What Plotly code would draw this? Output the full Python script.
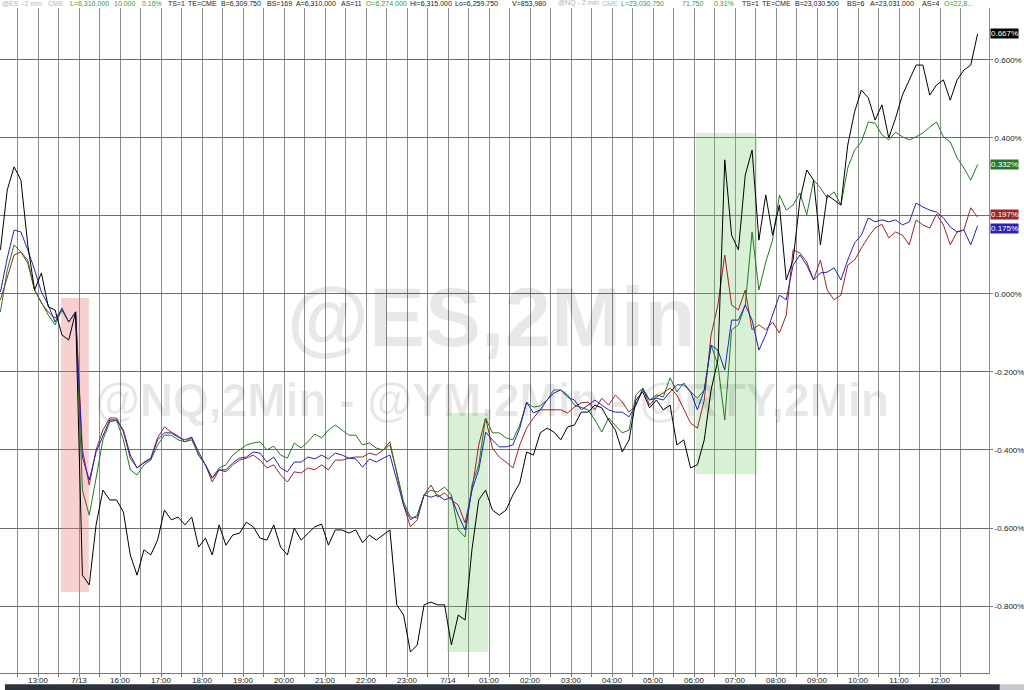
import plotly.graph_objects as go

# 10-minute samples, session gap (Fri 14:00 -> Sun 15:00) removed; 0 = 13:00 on 7/11
FIRST_BAR_MIN = -55
BAR_MIN = 10

# % change series
blk_pct = [
    0.113, 0.267, 0.326, 0.292, 0.126, 0.010, 0.054, -0.033, -0.041, -0.105, -0.118, -0.046,
    -0.721, -0.746, -0.592, -0.503, -0.528, -0.528, -0.559, -0.669, -0.721, -0.656, -0.669, -0.631,
    -0.554, -0.579, -0.572, -0.592, -0.572, -0.649, -0.626, -0.669, -0.592, -0.644, -0.618, -0.613,
    -0.585, -0.597, -0.626, -0.631, -0.592, -0.649, -0.669, -0.600, -0.631, -0.613, -0.597, -0.590,
    -0.644, -0.605, -0.605, -0.613, -0.605, -0.638, -0.618, -0.631, -0.618, -0.605, -0.797, -0.823,
    -0.918, -0.900, -0.797, -0.790, -0.797, -0.797, -0.900, -0.823, -0.836, -0.656, -0.528, -0.503,
    -0.554, -0.567, -0.554, -0.515, -0.485, -0.405, -0.413, -0.356, -0.344, -0.354, -0.374, -0.341,
    -0.336, -0.303, -0.303, -0.285, -0.292, -0.323, -0.349, -0.405, -0.374, -0.272, -0.251, -0.292,
    -0.272, -0.297, -0.285, -0.387, -0.374, -0.446, -0.438, -0.374, -0.246, -0.169, 0.344, 0.151,
    0.113, 0.305, 0.369, 0.138, 0.254, 0.151, 0.228, 0.036, 0.087, 0.241, 0.318, 0.292,
    0.126, 0.254, 0.241, 0.228, 0.382, 0.467, 0.523, 0.503, 0.446, 0.485, 0.400, 0.451,
    0.510, 0.549, 0.587, 0.587, 0.510, 0.536, 0.549, 0.497, 0.549, 0.574, 0.587, 0.667,
]
grn_pct = [
    -0.046, 0.062, 0.126, 0.108, 0.087, 0.010, -0.021, -0.054, -0.079, -0.041, -0.072, -0.046,
    -0.503, -0.567, -0.472, -0.374, -0.328, -0.323, -0.374, -0.451, -0.464, -0.438, -0.426, -0.387,
    -0.362, -0.362, -0.374, -0.379, -0.374, -0.413, -0.438, -0.472, -0.446, -0.438, -0.413, -0.400,
    -0.387, -0.382, -0.379, -0.400, -0.390, -0.413, -0.421, -0.382, -0.395, -0.379, -0.359, -0.369,
    -0.349, -0.336, -0.349, -0.362, -0.362, -0.387, -0.382, -0.395, -0.400, -0.387, -0.456, -0.533,
    -0.572, -0.574, -0.515, -0.503, -0.508, -0.495, -0.515, -0.605, -0.623, -0.490, -0.438, -0.318,
    -0.356, -0.356, -0.369, -0.374, -0.336, -0.279, -0.290, -0.287, -0.272, -0.246, -0.246, -0.259,
    -0.285, -0.292, -0.297, -0.323, -0.354, -0.318, -0.336, -0.356, -0.349, -0.259, -0.241, -0.272,
    -0.259, -0.264, -0.215, -0.251, -0.228, -0.251, -0.267, -0.246, -0.131, -0.182, -0.323, -0.092,
    -0.079, -0.028, 0.159, 0.010, 0.082, 0.138, 0.254, 0.215, 0.228, 0.259, 0.203, 0.292,
    0.272, 0.246, 0.262, 0.228, 0.323, 0.369, 0.390, 0.441, 0.438, 0.408, 0.395, 0.415,
    0.403, 0.395, 0.403, 0.413, 0.428, 0.441, 0.403, 0.390, 0.349, 0.323, 0.292, 0.332,
]
red_pct = [
    -0.015, 0.041, 0.100, 0.108, 0.079, 0.010, -0.023, -0.046, -0.062, -0.041, -0.072, -0.046,
    -0.400, -0.490, -0.400, -0.349, -0.318, -0.318, -0.354, -0.421, -0.446, -0.431, -0.421, -0.369,
    -0.341, -0.354, -0.364, -0.379, -0.369, -0.413, -0.438, -0.482, -0.451, -0.456, -0.438, -0.426,
    -0.421, -0.413, -0.426, -0.446, -0.438, -0.464, -0.482, -0.456, -0.459, -0.446, -0.451, -0.438,
    -0.451, -0.426, -0.426, -0.421, -0.418, -0.418, -0.408, -0.413, -0.400, -0.379, -0.464, -0.541,
    -0.597, -0.579, -0.515, -0.490, -0.521, -0.510, -0.528, -0.541, -0.587, -0.503, -0.387, -0.318,
    -0.395, -0.418, -0.431, -0.446, -0.387, -0.344, -0.318, -0.297, -0.297, -0.297, -0.297, -0.305,
    -0.290, -0.279, -0.277, -0.297, -0.267, -0.285, -0.259, -0.277, -0.303, -0.285, -0.241, -0.285,
    -0.264, -0.254, -0.241, -0.259, -0.297, -0.331, -0.344, -0.272, -0.105, -0.028, 0.100, -0.028,
    -0.041, 0.010, -0.092, -0.079, -0.092, -0.072, -0.100, -0.054, 0.113, 0.105, 0.082, 0.036,
    0.087, 0.010, -0.015, -0.003, 0.074, 0.087, 0.118, 0.146, 0.169, 0.179, 0.144, 0.159,
    0.151, 0.126, 0.190, 0.177, 0.169, 0.205, 0.177, 0.126, 0.159, 0.164, 0.221, 0.197,
]
blu_pct = [
    0.005, 0.092, 0.164, 0.159, 0.113, 0.062, 0.005, -0.028, -0.072, -0.036, -0.072, -0.046,
    -0.418, -0.477, -0.405, -0.362, -0.323, -0.323, -0.349, -0.413, -0.446, -0.433, -0.423, -0.374,
    -0.356, -0.356, -0.367, -0.374, -0.367, -0.405, -0.438, -0.472, -0.451, -0.451, -0.433, -0.421,
    -0.418, -0.405, -0.408, -0.431, -0.418, -0.446, -0.456, -0.431, -0.431, -0.418, -0.423, -0.413,
    -0.423, -0.408, -0.413, -0.421, -0.423, -0.444, -0.423, -0.431, -0.421, -0.413, -0.477, -0.541,
    -0.579, -0.567, -0.515, -0.521, -0.515, -0.528, -0.521, -0.567, -0.605, -0.503, -0.451, -0.354,
    -0.374, -0.392, -0.392, -0.387, -0.344, -0.277, -0.305, -0.297, -0.272, -0.254, -0.246, -0.264,
    -0.272, -0.297, -0.285, -0.272, -0.285, -0.297, -0.303, -0.303, -0.315, -0.285, -0.246, -0.272,
    -0.267, -0.272, -0.251, -0.233, -0.233, -0.251, -0.297, -0.246, -0.131, -0.144, -0.195, -0.067,
    -0.067, -0.028, -0.067, -0.144, -0.105, -0.054, -0.003, -0.015, 0.074, 0.100, 0.074, 0.036,
    0.054, 0.056, 0.067, 0.036, 0.087, 0.131, 0.151, 0.195, 0.185, 0.190, 0.185, 0.190,
    0.177, 0.185, 0.233, 0.223, 0.215, 0.210, 0.195, 0.172, 0.159, 0.164, 0.126, 0.175,
]

# x ticks: one label per hour (compressed session time)
tick_labels = ["13:00", "7/13", "16:00", "17:00", "18:00", "19:00", "20:00", "21:00", "22:00",
               "23:00", "7/14", "01:00", "02:00", "03:00", "04:00", "05:00", "06:00", "07:00",
               "08:00", "09:00", "10:00", "11:00", "12:00"]
y_ticks = [-0.8, -0.6, -0.4, -0.2, 0.0, 0.2, 0.4, 0.6]
y_hidden = [0.2]  # label sits under the last-value badges

# highlighted zones: (start hour, end hour, low %, high %, color)
highlight_boxes = [
    (0.56, 1.24, -0.764, -0.010, "rgba(235,120,120,0.35)"),
    (9.98, 10.98, -0.918, -0.305, "rgba(120,200,110,0.28)"),
    (16.05, 17.54, -0.462, 0.413, "rgba(120,200,110,0.28)"),
]

# (name, values, colour, badge nudge in px)
series = [
    ("@YM", red_pct, "#9a2626", 3),
    ("@NQ", grn_pct, "#237a23", 0),
    ("@ES", blu_pct, "#2424b4", -3),
    ("@RTY", blk_pct, "#000000", 0),
]

FONT = "Arial, Liberation Sans, sans-serif"

fig = go.Figure()
for name, vals, color, _ in series:
    xs = [(FIRST_BAR_MIN + i * BAR_MIN) / 60 for i in range(len(vals))]
    fig.add_trace(go.Scatter(x=xs, y=vals, mode="lines", name=name,
                             line=dict(color=color, width=1), hoverinfo="skip"))

for x0, x1, y0, y1, col in highlight_boxes:
    fig.add_shape(type="rect", xref="x", yref="y", x0=x0, x1=x1, y0=y0, y1=y1,
                  fillcolor=col, line_width=0, layer="between")

# watermark
fig.add_annotation(text="@ES,2Min", xref="paper", yref="paper", x=0.497, y=0.536,
                   showarrow=False, font=dict(family=FONT, size=84, color="rgba(0,0,0,0.09)", weight="bold"))
fig.add_annotation(text="@NQ,2Min - @YM,2Min - @RTY,2Min", xref="paper", yref="paper",
                   x=0.497, y=0.411, showarrow=False,
                   font=dict(family=FONT, size=46, color="rgba(0,0,0,0.09)", weight="bold"))

# last-value badges on the price axis
for name, vals, color, nudge in series:
    fig.add_annotation(text=f"{vals[-1]:.3f}%", xref="paper", yref="y", x=1.0, y=vals[-1],
                       xanchor="left", xshift=1, yshift=nudge, showarrow=False, bgcolor=color,
                       borderpad=0, font=dict(family=FONT, size=8, color="white"))

# quote header line
GRAY, GRN, DRK = "#b4b4b4", "#3a9a3a", "#222222"
header = [
    (0, "@ES - 2 min", GRAY), (46, "CME", GRAY), (68, "L=6,310.000", GRN), (112, "10.000", GRN),
    (140, "0.16%", GRN), (166, "TS=1", DRK), (186, "TE=CME", DRK), (219, "B=6,309.750", DRK),
    (265, "BS=169", DRK), (294, "A=6,310.000", DRK), (339, "AS=11", DRK), (364, "O=6,274.000", GRN),
    (408, "Hi=6,315.000", DRK), (453, "Lo=6,259.750", DRK), (510, "V=853,980", DRK),
    (556, "@NQ - 2 min", GRAY), (600, "CME", GRAY), (619, "L=23,030.750", GRN), (680, "71.750", GRN),
    (712, "0.31%", GRN), (740, "TS=1", DRK), (760, "TE=CME", DRK), (793, "B=23,030.500", DRK),
    (845, "BS=6", DRK), (868, "A=23,031.000", DRK), (920, "AS=4", DRK), (942, "O=22,8...", GRN),
]
for px, txt, col in header:
    fig.add_annotation(text=txt, xref="paper", yref="paper", x=px / 989, y=1.007,
                       xanchor="left", yanchor="middle", showarrow=False,
                       font=dict(family=FONT, size=7, color=col))

# scroll bar under the time axis
fig.add_shape(type="rect", xref="paper", yref="paper", x0=0.005, x1=1.011, y0=-0.027, y1=-0.017,
              fillcolor="#2d333b", line_width=0)
fig.add_shape(type="rect", xref="paper", yref="paper", x0=1.011, x1=1.036, y0=-0.027, y1=-0.017,
              fillcolor="#c5c9ce", line_width=0)

half_hours = [h / 2 for h in range(-1, 46)]
x_text = [tick_labels[int(h)] if h == int(h) and 0 <= h < len(tick_labels) else "" for h in half_hours]
y_text = ["" if v in y_hidden else ("0.000%" if v == 0 else f"{v:.3f}%") for v in y_ticks]

fig.update_layout(
    width=1024, height=690, showlegend=False, template="none",
    margin=dict(l=0, r=35, t=8, b=17),
    plot_bgcolor="white", paper_bgcolor="white",
    font=dict(family=FONT, size=8, color="#222"),
    xaxis=dict(range=[-0.927, 23.195], tickvals=half_hours, ticktext=x_text,
               showgrid=True, gridcolor="#8c8c8c", gridwidth=1, zeroline=False,
               showline=True, linecolor="#7a7a7a", linewidth=1,
               ticks="outside", ticklen=3, tickcolor="#7a7a7a", ticklabelstandoff=-4,
               tickfont=dict(family=FONT, size=8, color="#222")),
    yaxis=dict(range=[-0.9718, 0.7333], side="right", tickvals=y_ticks, ticktext=y_text,
               showgrid=True, gridcolor="#6e6e6e", gridwidth=1, zeroline=False,
               showline=True, linecolor="#8c8c8c", linewidth=1,
               ticks="outside", ticklen=3, tickcolor="#7a7a7a",
               tickfont=dict(family=FONT, size=8, color="#222")),
)

fig.write_html("out.html", config={"displayModeBar": False},
               post_script="document.body.style.margin='0';document.body.style.overflow='hidden';")
